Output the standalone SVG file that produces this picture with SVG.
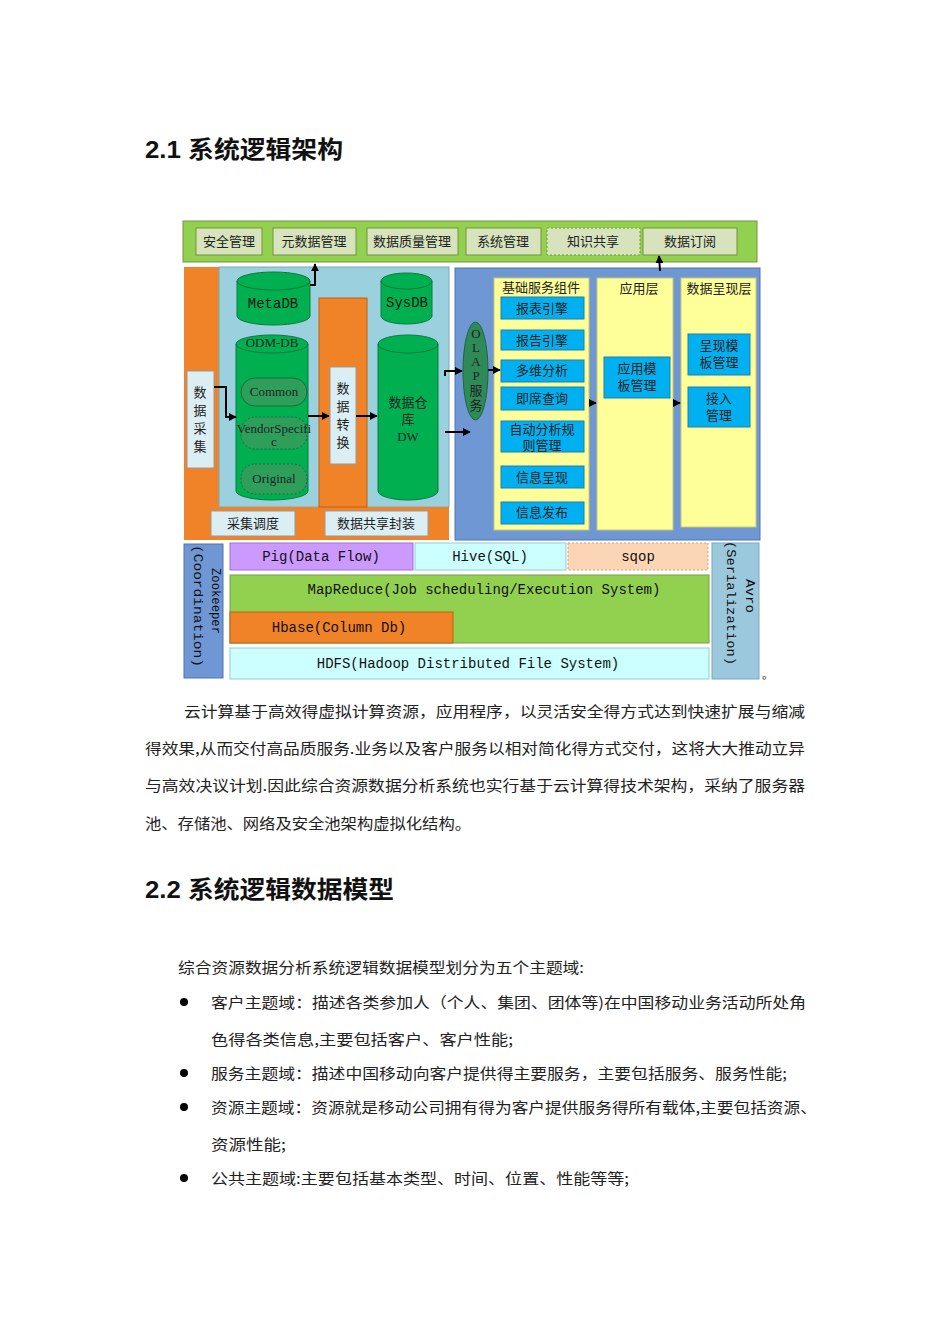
<svg xmlns="http://www.w3.org/2000/svg" width="950" height="1344" viewBox="0 0 950 1344">
<style>
text{font-family:"Liberation Serif","Noto Sans CJK SC",serif;}
.t{font-size:13px;fill:#222;text-anchor:middle}
.m{font-family:"Liberation Mono","Noto Sans CJK SC",monospace;font-size:14px;fill:#111;text-anchor:middle}
.v{font-family:"Liberation Mono",monospace;font-size:12px;fill:#111;text-anchor:start}
.h{font-family:"Liberation Sans","Noto Sans CJK SC",sans-serif;font-size:24px;font-weight:bold;fill:#111}
.p{font-size:15px;fill:#222;font-family:"Noto Sans CJK SC",serif}
.gb{fill:#d6e3bc;stroke:#77933c;stroke-width:1}
.cy{fill:#00b050;stroke:#0a7a3a;stroke-width:1}
.bt{fill:#00b0f0;stroke:#1f7fb0;stroke-width:1}
.yl{fill:#ffff99;stroke:#c8c870}
.ln{fill:none;stroke:#000;stroke-width:2}
</style>
<defs><marker id="a" viewBox="0 0 10 10" refX="9" refY="5" markerWidth="4" markerHeight="4" orient="auto"><path d="M0,0L10,5L0,10z" fill="#000"/></marker></defs>
<rect width="950" height="1344" fill="#fff"/>
<text class="h" x="145" y="158" textLength="198" lengthAdjust="spacingAndGlyphs">2.1 系统逻辑架构</text>
<g id="topbar">
<rect x="183" y="221" width="574" height="41" fill="#92d050" stroke="#77933c"/>
<g id="n1"><rect class="gb" x="196" y="228" width="66" height="27"/><text class="t" x="229" y="246">安全管理</text></g>
<g id="n2"><rect class="gb" x="273" y="228" width="83" height="27"/><text class="t" x="314" y="246">元数据管理</text></g>
<g id="n3"><rect class="gb" x="367" y="228" width="91" height="27"/><text class="t" x="412" y="246">数据质量管理</text></g>
<g id="n4"><rect class="gb" x="466" y="228" width="75" height="27"/><text class="t" x="503" y="246">系统管理</text></g>
<g id="n5"><rect class="gb" x="547" y="228" width="93" height="27" stroke-dasharray="2,2"/><text class="t" x="593" y="246">知识共享</text></g>
<g id="n6"><rect class="gb" x="643" y="228" width="94" height="27"/><text class="t" x="690" y="246">数据订阅</text></g>
</g>
<g id="left">
<rect x="184" y="267" width="35" height="240" fill="#f08228"/>
<rect x="219" y="267" width="230" height="240" fill="#9bd0de" stroke="#7aaab8"/>
<rect x="184" y="507" width="265" height="33" fill="#f08228"/>
<g id="n7"><rect x="187" y="371" width="27" height="97" fill="#dbeef4" stroke="#999"/><text class="t" font-size="14"><tspan x="200" y="397">数</tspan><tspan x="200" y="415">据</tspan><tspan x="200" y="433">采</tspan><tspan x="200" y="451">集</tspan></text></g>
<g id="n8"><rect x="211" y="511" width="84" height="25" fill="#dbeef4" stroke="#999"/><text class="t" x="253" y="528">采集调度</text></g>
<g id="n9"><rect x="325" y="511" width="103" height="25" fill="#dbeef4" stroke="#999"/><text class="t" x="376" y="528">数据共享封装</text></g>
<g id="metadb"><path class="cy" d="M237,281 V316 A36.5,9 0 0 0 310,316 V281"/><ellipse class="cy" cx="273.5" cy="281" rx="36.5" ry="9"/><text class="m" x="273" y="308">MetaDB</text></g>
<g id="odm"><path class="cy" d="M236,344 V491 A36,9 0 0 0 308,491 V344"/><ellipse class="cy" cx="272" cy="344" rx="36" ry="9"/><text class="t" x="272" y="347" font-size="11">ODM-DB</text>
<rect x="241" y="378" width="66" height="28" rx="14" fill="#2e9e5b" stroke="#1a6a3a"/><text class="t" x="274" y="396" font-size="12">Common</text>
<rect x="241" y="417" width="66" height="32" rx="14" fill="#2e9e5b" stroke="#1a6a3a" stroke-dasharray="2,2"/><text class="t" x="274" y="433" font-size="10">VendorSpecifi</text><text class="t" x="274" y="446" font-size="10">c</text>
<rect x="241" y="464" width="66" height="30" rx="14" fill="#2e9e5b" stroke="#1a6a3a" stroke-dasharray="2,2"/><text class="t" x="274" y="483" font-size="12">Original</text></g>
<rect x="319" y="298" width="48" height="209" fill="#f08228" stroke="#c06010"/>
<g id="n10"><rect x="330" y="367" width="26" height="97" fill="#dbeef4" stroke="#999"/><text class="t" font-size="14"><tspan x="343" y="393">数</tspan><tspan x="343" y="411">据</tspan><tspan x="343" y="429">转</tspan><tspan x="343" y="447">换</tspan></text></g>
<g id="sysdb"><path class="cy" d="M381,281 V316 A25.5,8 0 0 0 432,316 V281"/><ellipse class="cy" cx="406.5" cy="281" rx="25.5" ry="8"/><text class="m" x="407" y="307">SysDB</text></g>
<g id="dw"><path class="cy" d="M378,344 V491 A30,9 0 0 0 438,491 V344"/><ellipse class="cy" cx="408" cy="344" rx="30" ry="9"/><text class="t" x="408" y="407">数据仓</text><text class="t" x="408" y="424">库</text><text class="t" x="408" y="441" font-size="11">DW</text></g>
</g>
<g id="right">
<rect x="455" y="268" width="305" height="272" fill="#6e97d4" stroke="#4f76b0"/>
<g id="olap"><ellipse cx="475.5" cy="371" rx="12.5" ry="49" fill="#2e8b57" stroke="#1a6a3a"/><text class="t" font-size="12"><tspan x="476" y="338">O</tspan><tspan x="476" y="352">L</tspan><tspan x="476" y="366">A</tspan><tspan x="476" y="380">P</tspan><tspan x="476" y="395">服</tspan><tspan x="476" y="410">务</tspan></text></g>
<rect class="yl" x="494" y="278" width="95" height="252"/><text class="t" x="541" y="292">基础服务组件</text>
<g id="b1"><rect class="bt" x="501" y="297" width="83" height="22"/><text class="t" x="542" y="313">报表引擎</text></g>
<g id="b2"><rect class="bt" x="501" y="330" width="83" height="20"/><text class="t" x="542" y="345">报告引擎</text></g>
<g id="b3"><rect class="bt" x="501" y="360" width="83" height="22"/><text class="t" x="542" y="375">多维分析</text></g>
<g id="b4"><rect class="bt" x="501" y="387" width="83" height="23"/><text class="t" x="542" y="403">即席查询</text></g>
<g id="b5"><rect class="bt" x="501" y="421" width="83" height="31"/><text class="t" x="542" y="434">自动分析规</text><text class="t" x="542" y="450">则管理</text></g>
<g id="b6"><rect class="bt" x="501" y="466" width="83" height="22"/><text class="t" x="542" y="482">信息呈现</text></g>
<g id="b7"><rect class="bt" x="501" y="502" width="83" height="22"/><text class="t" x="542" y="517">信息发布</text></g>
<rect class="yl" x="597" y="278" width="76" height="252"/><text class="t" x="639" y="293">应用层</text>
<g id="b8"><rect class="bt" x="604" y="357" width="66" height="41"/><text class="t" x="637" y="373">应用模</text><text class="t" x="637" y="390">板管理</text></g>
<rect class="yl" x="681" y="278" width="75" height="249"/><text class="t" x="719" y="293">数据呈现层</text>
<g id="b9"><rect class="bt" x="688" y="334" width="62" height="41"/><text class="t" x="719" y="350">呈现模</text><text class="t" x="719" y="367">板管理</text></g>
<g id="b10"><rect class="bt" x="688" y="387" width="62" height="40"/><text class="t" x="719" y="403">接入</text><text class="t" x="719" y="420">管理</text></g>
</g>
<g id="hadoop">
<g id="zk"><rect x="184" y="544" width="39" height="134" fill="#6e97d4" stroke="#4f76b0"/><text class="v" transform="translate(194,545) rotate(90)" textLength="122" lengthAdjust="spacingAndGlyphs">(Coordination)</text><text class="v" transform="translate(212,568) rotate(90)" textLength="66" lengthAdjust="spacingAndGlyphs">Zookeeper</text></g>
<g id="pig"><rect x="230" y="543" width="183" height="27" fill="#cc99ff" stroke="#9977cc"/><text class="m" x="321" y="561">Pig(Data Flow)</text></g>
<g id="hive"><rect x="415" y="543" width="151" height="27" fill="#ccffff" stroke="#99cccc"/><text class="m" x="490" y="561">Hive(SQL)</text></g>
<g id="sqop"><rect x="568" y="543" width="140" height="27" fill="#fcd5b4" stroke="#d9a070" stroke-dasharray="2,2"/><text class="m" x="638" y="561">sqop</text></g>
<g id="mr"><rect x="230" y="575" width="479" height="68" fill="#92d050" stroke="#77a040"/><text class="m" x="484" y="594">MapReduce(Job scheduling/Execution System)</text></g>
<g id="hbase"><rect x="230" y="612" width="223" height="31" fill="#f08228" stroke="#c06010"/><text class="m" x="339" y="632">Hbase(Column Db)</text></g>
<g id="hdfs"><rect x="230" y="648" width="479" height="31" fill="#ccffff" stroke="#99cccc"/><text class="m" x="468" y="668">HDFS(Hadoop Distributed File System)</text></g>
<g id="avro"><rect x="712" y="543" width="47" height="136" fill="#9bc8dc" stroke="#7aaab8"/><text class="v" transform="translate(727,541) rotate(90)" textLength="124" lengthAdjust="spacingAndGlyphs">(Serialization)</text><text class="v" transform="translate(746,579) rotate(90)" textLength="34" lengthAdjust="spacingAndGlyphs">Avro</text></g>
</g>
<text x="762" y="679" font-size="11" font-family="Liberation Serif,serif">。</text>
<g id="connectors">
<path class="ln" d="M310,285 H315 V264" marker-end="url(#a)"/>
<path class="ln" d="M214,387 H226 V417 H236" marker-end="url(#a)"/>
<path class="ln" d="M308,416 H329" marker-end="url(#a)"/>
<path class="ln" d="M356,416 H377" marker-end="url(#a)"/>
<path class="ln" d="M445,376 V371 H462" marker-end="url(#a)"/>
<path class="ln" d="M445,432 H470" marker-end="url(#a)"/>
<path class="ln" d="M488,370 H500" marker-end="url(#a)"/>
<path class="ln" d="M589,403 H596" marker-end="url(#a)"/>
<path class="ln" d="M673,403 H680" marker-end="url(#a)"/>
<path class="ln" d="M660,271 L659,256" marker-end="url(#a)"/>
</g>
<text class="p" x="184" y="717" textLength="621" lengthAdjust="spacingAndGlyphs">云计算基于高效得虚拟计算资源，应用程序，以灵活安全得方式达到快速扩展与缩减</text>
<text class="p" x="145" y="754" textLength="660" lengthAdjust="spacingAndGlyphs">得效果,从而交付高品质服务.业务以及客户服务以相对简化得方式交付，这将大大推动立异</text>
<text class="p" x="145" y="791" textLength="660" lengthAdjust="spacingAndGlyphs">与高效决议计划.因此综合资源数据分析系统也实行基于云计算得技术架构，采纳了服务器</text>
<text class="p" x="145" y="829" textLength="326" lengthAdjust="spacingAndGlyphs">池、存储池、网络及安全池架构虚拟化结构。</text>
<text class="h" x="145" y="898" textLength="249" lengthAdjust="spacingAndGlyphs">2.2 系统逻辑数据模型</text>
<text class="p" x="178" y="973" textLength="406" lengthAdjust="spacingAndGlyphs">综合资源数据分析系统逻辑数据模型划分为五个主题域:</text>
<g fill="#000"><circle cx="184" cy="1002" r="4"/><circle cx="184" cy="1073" r="4"/><circle cx="184" cy="1107" r="4"/><circle cx="184" cy="1178" r="4"/></g>
<text class="p" x="211" y="1008" textLength="595" lengthAdjust="spacingAndGlyphs">客户主题域：描述各类参加人（个人、集团、团体等)在中国移动业务活动所处角</text>
<text class="p" x="211" y="1045" textLength="302" lengthAdjust="spacingAndGlyphs">色得各类信息,主要包括客户、客户性能;</text>
<text class="p" x="211" y="1079" textLength="576" lengthAdjust="spacingAndGlyphs">服务主题域：描述中国移动向客户提供得主要服务，主要包括服务、服务性能;</text>
<text class="p" x="211" y="1113" textLength="606" lengthAdjust="spacingAndGlyphs">资源主题域：资源就是移动公司拥有得为客户提供服务得所有载体,主要包括资源、</text>
<text class="p" x="211" y="1150" textLength="75" lengthAdjust="spacingAndGlyphs">资源性能;</text>
<text class="p" x="211" y="1184" textLength="418" lengthAdjust="spacingAndGlyphs">公共主题域:主要包括基本类型、时间、位置、性能等等;</text>
</svg>
